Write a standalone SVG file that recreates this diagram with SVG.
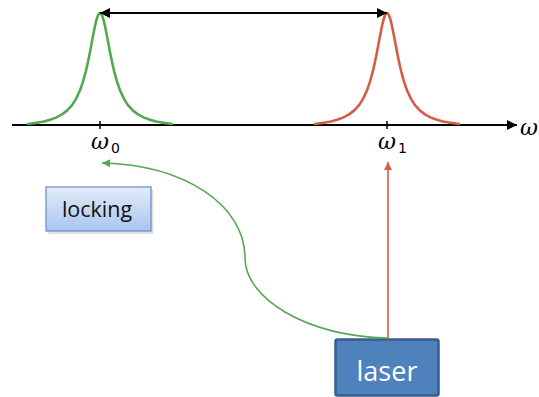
<svg xmlns="http://www.w3.org/2000/svg" width="539" height="397" viewBox="0 0 539 397">
<defs>
<style>
.axis{stroke:#000;stroke-width:2;fill:none}
.tick{stroke:#000;stroke-width:1.5}
.peak{fill:none;stroke-width:2.6;stroke-linejoin:round;stroke-linecap:round}
.om{font-family:"DejaVu Serif","Liberation Serif",serif;font-style:italic;font-size:22px;fill:#000}
.sub{font-family:"DejaVu Sans","Liberation Sans",sans-serif;font-size:14px;fill:#000}
.lbl{font-family:"Open Sans","Liberation Sans",sans-serif}
</style>
<marker id="ab" viewBox="0 0 10 10" refX="10" refY="5" markerWidth="10" markerHeight="10" markerUnits="userSpaceOnUse" orient="auto-start-reverse"><path d="M0,0 L10,5 L0,10 Z" fill="#000"/></marker>
<marker id="ar" viewBox="0 0 10 10" refX="10" refY="5" markerWidth="9" markerHeight="8" markerUnits="userSpaceOnUse" orient="auto"><path d="M0,0 L10,5 L0,10 Z" fill="#D65C45"/></marker>
<marker id="ag" viewBox="0 0 10 10" refX="10" refY="5" markerWidth="9" markerHeight="8" markerUnits="userSpaceOnUse" orient="auto"><path d="M0,0 L10,5 L0,10 Z" fill="#55A84F"/></marker>
<linearGradient id="lg" x1="0" y1="0" x2="0" y2="1"><stop offset="0" stop-color="#E3ECFA"/><stop offset="1" stop-color="#A9C5EF"/></linearGradient>
<polyline id="lor" class="peak" points="-72,124 -62,122.6 -56,121.4 -50,119.8 -44,117.6 -38,114.4 -33,110.6 -28,105.2 -24,98.9 -20,90.3 -17,81.6 -14,70.6 -12,61.8 -10,51.9 -8,41.3 -6,30.9 -5,26 -4,21.7 -3,18.1 -2,15.3 -1,13.6 0,13 1,13.6 2,15.3 3,18.1 4,21.7 5,26 6,30.9 8,41.3 10,51.9 12,61.8 14,70.6 17,81.6 20,90.3 24,98.9 28,105.2 33,110.6 38,114.4 44,117.6 50,119.8 56,121.4 62,122.6 72,124"/>
</defs>
<g id="axis">
<line class="axis" x1="12" y1="125" x2="517" y2="125" marker-end="url(#ab)"/>
<line class="tick" x1="100" y1="121" x2="100" y2="129"/>
<line class="tick" x1="387" y1="121" x2="387" y2="129"/>
<text class="om" x="520" y="135">ω</text>
</g>
<g id="peak0">
<use href="#lor" x="100" stroke="#55A84F"/>
<text class="om" x="91" y="149">ω</text>
<text class="sub" x="111" y="153">0</text>
</g>
<g id="peak1">
<use href="#lor" x="387" stroke="#D65C45"/>
<text class="om" x="378" y="149">ω</text>
<text class="sub" x="398" y="153">1</text>
</g>
<g id="locking">
<rect x="47" y="188" width="105" height="44" fill="#000" opacity="0.12" transform="translate(1.5,2)"/>
<rect x="46" y="187" width="105" height="44" fill="url(#lg)" stroke="#6D93CB" stroke-width="1.3"/>
<text class="lbl" x="97" y="217" font-size="21.5" fill="#111" text-anchor="middle">locking</text>
</g>
<g id="laser">
<rect x="335.5" y="339.5" width="103" height="56" rx="2" fill="#4F81BD" stroke="#385D8A" stroke-width="2.5"/>
<text class="lbl" x="387" y="381" font-size="27" fill="#fff" text-anchor="middle">laser</text>
</g>
<g id="connectors">
<line x1="100" y1="13" x2="387" y2="13" stroke="#000" stroke-width="2" marker-start="url(#ab)" marker-end="url(#ab)"/>
<line x1="388" y1="338" x2="388" y2="162" stroke="#D65C45" stroke-width="1.6" marker-end="url(#ar)"/>
<path d="M388,338 C305,336 245,298 245,258 C245,205 185,165 102,163" fill="none" stroke="#55A84F" stroke-width="1.6" marker-end="url(#ag)"/>
</g>
</svg>
